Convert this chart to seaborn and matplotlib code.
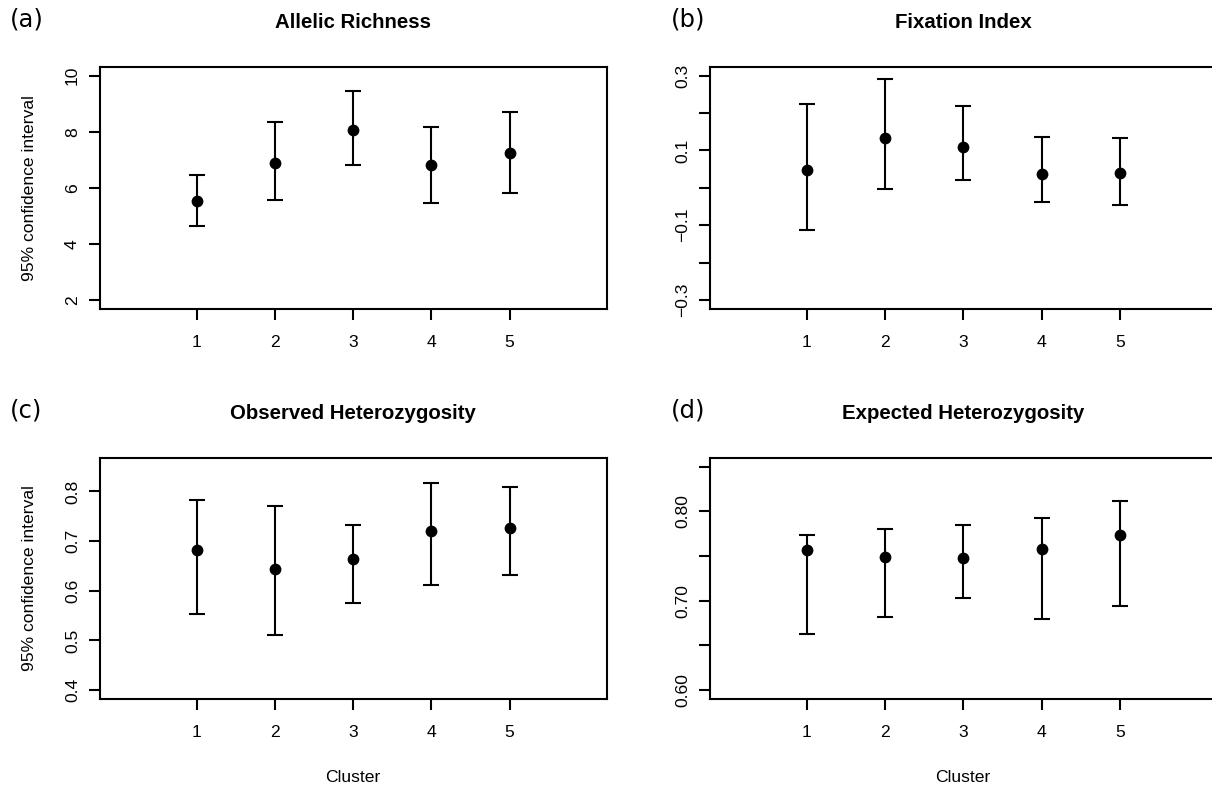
import numpy as np
import matplotlib
matplotlib.use("Agg")
import matplotlib.pyplot as plt
import seaborn as sns

# valores: media y limites del IC 95%
clusters = [1, 2, 3, 4, 5]

ar_mean = [5.54, 6.90, 8.08, 6.81, 7.26]
ar_low = [4.64, 5.55, 6.83, 5.46, 5.82]
ar_high = [6.46, 8.36, 9.46, 8.18, 8.71]

fis_mean = [0.047, 0.134, 0.110, 0.036, 0.041]
fis_low = [-0.113, -0.003, 0.020, -0.038, -0.045]
fis_high = [0.223, 0.291, 0.220, 0.137, 0.132]

ho_mean = [0.682, 0.643, 0.664, 0.721, 0.727]
ho_low = [0.554, 0.510, 0.575, 0.611, 0.632]
ho_high = [0.783, 0.770, 0.733, 0.817, 0.809]

he_mean = [0.757, 0.749, 0.748, 0.758, 0.773]
he_low = [0.663, 0.682, 0.703, 0.679, 0.694]
he_high = [0.773, 0.780, 0.785, 0.792, 0.812]

titles = ["Allelic Richness", "Fixation Index",
          "Observed Heterozygosity", "Expected Heterozygosity"]
letters = ["(a)", "(b)", "(c)", "(d)"]

ar_ticks = [2, 4, 6, 8, 10]
ar_labels = ["2", "4", "6", "8", "10"]
fis_ticks = [-0.3, -0.2, -0.1, 0.0, 0.1, 0.2, 0.3]
fis_labels = ["\u22120.3", "", "\u22120.1", "", "0.1", "", "0.3"]
ho_ticks = [0.4, 0.5, 0.6, 0.7, 0.8]
ho_labels = ["0.4", "0.5", "0.6", "0.7", "0.8"]
he_ticks = [0.60, 0.65, 0.70, 0.75, 0.80, 0.85]
he_labels = ["0.60", "", "0.70", "", "0.80", ""]

sns.set_theme(style="ticks")
plt.rcParams['font.family'] = ['Liberation Sans', 'DejaVu Sans']
plt.rcParams['text.color'] = 'black'

W, H = 1212, 793
fig = plt.figure(figsize=(W / 100, H / 100), dpi=100)

# posiciones de los paneles en pixeles (izq, arriba, der, abajo)
boxes = [(99.5, 66.7, 606.7, 309), (709.7, 66.7, 1216.9, 309),
         (99.5, 457.7, 606.7, 699), (709.7, 457.7, 1216.9, 699)]
panels = [
    (ar_mean, ar_low, ar_high, (2, 10), ar_ticks, ar_labels),
    (fis_mean, fis_low, fis_high, (-0.3, 0.3), fis_ticks, fis_labels),
    (ho_mean, ho_low, ho_high, (0.4, 0.85), ho_ticks, ho_labels),
    (he_mean, he_low, he_high, (0.6, 0.85), he_ticks, he_labels),
]

for i, (box, (m, lo, hi, lim, yt, yl)) in enumerate(zip(boxes, panels)):
    l, t, r, b = box
    ax = fig.add_axes([l / W, 1 - b / H, (r - l) / W, (b - t) / H])
    m = np.array(m)
    yerr = [m - np.array(lo), np.array(hi) - m]
    ax.errorbar(clusters, m, yerr=yerr, fmt='none', ecolor='black',
                elinewidth=1.5, capsize=6, capthick=1.5, zorder=2)
    sns.scatterplot(x=clusters, y=m, ax=ax, color='black', s=72,
                    linewidth=0, zorder=3)
    # limites estilo R (4% de margen)
    ax.set_xlim(0 - 0.24, 6 + 0.24)
    pad = (lim[1] - lim[0]) * 0.04
    ax.set_ylim(lim[0] - pad, lim[1] + pad)
    ax.set_xticks(clusters)
    ax.set_xticklabels([str(c) for c in clusters])
    ax.set_yticks(yt)
    ax.set_yticklabels(yl, rotation=90, va='center')
    for s in ax.spines.values():
        s.set_linewidth(1.5)
        s.set_color('black')
    ax.tick_params(axis='both', length=8, width=1.5, color='black',
                   labelsize=12.6, labelcolor='black')
    ax.tick_params(axis='x', pad=11)
    ax.tick_params(axis='y', pad=6)
    ax.set_xlabel('')
    ax.set_ylabel('')

    cx = (l + r) / 2
    fig.text(cx / W, 1 - (t - 44.5) / H, titles[i], ha='center', va='center',
             fontsize=14.7, fontweight='bold', color='black')
    fig.text((10 if i % 2 == 0 else 671) / W, 1 - (t - 47) / H, letters[i],
             ha='left', va='center', fontsize=17.5, family='DejaVu Sans',
             color='black')
    if i % 2 == 0:
        fig.text(30 / W, 1 - ((t + b) / 2) / H, '95% confidence interval',
                 rotation=90, ha='center', va='center', fontsize=12.6,
                 color='black')
    if i >= 2:
        fig.text(cx / W, 1 - 777 / H, 'Cluster', ha='center', va='center',
                 fontsize=12.6, color='black')

fig.savefig('out.png', dpi=100, facecolor='white')
